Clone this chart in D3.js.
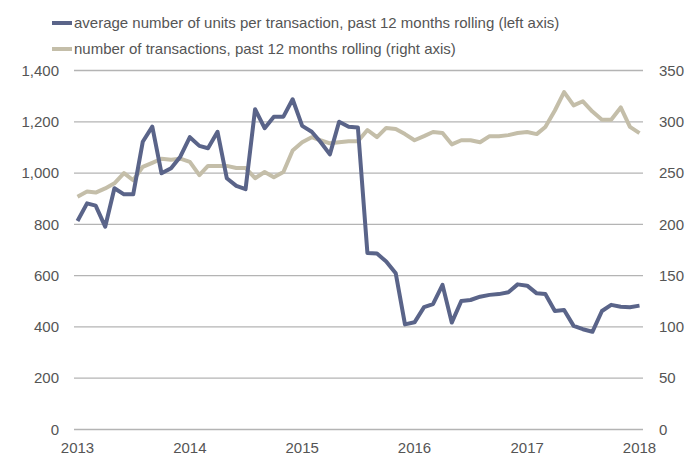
<!DOCTYPE html>
<html>
<head>
<meta charset="utf-8">
<script src="https://cdn.jsdelivr.net/npm/d3@7"></script>
<style>
  body { margin: 0; background: #fff; }
  svg { display: block; font-family: "Helvetica Neue", Helvetica, "Liberation Sans", Arial, sans-serif; }
</style>
</head>
<body>
<svg id="chart" width="699" height="457"></svg>
<script>
// monthly values, Jan 2013 .. Jan 2018
const startMonth = new Date(2013, 0, 1)
const unitsPerTransaction = [
  813, 882, 873, 791, 941, 917, 917, 1122, 1181, 999, 1019, 1064,
  1140, 1106, 1097, 1161, 980, 950, 937, 1249, 1175, 1220, 1220, 1288,
  1184, 1161, 1122, 1073, 1200, 1181, 1178, 688, 686, 655, 609, 410,
  418, 477, 489, 564, 417, 501, 505, 518, 525, 528, 535, 566,
  561, 531, 528, 462, 466, 404, 391, 381, 462, 486, 479, 477,
  483
]
const transactions = [
  227, 232, 231, 235, 240, 250, 243, 256, 260, 264, 263, 264,
  261, 248, 257, 257, 257, 255, 255, 245, 251, 246, 251, 272,
  280, 285, 282, 279, 280, 281, 281, 292, 285, 294, 293, 288,
  282, 286, 290, 289, 278, 282, 282, 280, 286, 286, 287, 289,
  290, 288, 295, 311, 329, 316, 320, 310, 302, 302, 314, 295,
  289
]
const leftTicks = [0, 200, 400, 600, 800, 1000, 1200, 1400]
const rightTicks = [0, 50, 100, 150, 200, 250, 300, 350]
const yearTicks = [2013, 2014, 2015, 2016, 2017, 2018]
const legendLabels = [
  "average number of units per transaction, past 12 months rolling (left axis)",
  "number of transactions, past 12 months rolling (right axis)"
]

const blue = "#5a6489", tan = "#c4bea9"

function visualize() {
  let svg = d3.select("#chart")
  let dates = unitsPerTransaction.map((d, i) => d3.timeMonth.offset(startMonth, i))

  let x = d3.scaleTime()
    .domain([new Date(2013, 0, 1), new Date(2018, 0, 1)])
    .range([77.5, 639.5])
  let yLeft = d3.scaleLinear().domain([0, 1400]).range([429.5, 70.5])
  let yRight = d3.scaleLinear().domain([0, 350]).range([429.5, 70.5])

  // grid
  svg.append("g")
    .selectAll("line")
    .data(leftTicks).enter()
    .append("line")
    .attr("x1", 74).attr("x2", 643)
    .attr("y1", d => yLeft(d)).attr("y2", d => yLeft(d))
    .attr("stroke", "#b4b4b4")
    .attr("stroke-width", 1.3)

  // left axis labels
  svg.append("g")
    .selectAll("text")
    .data(leftTicks).enter()
    .append("text")
    .attr("x", 59)
    .attr("y", d => yLeft(d))
    .attr("dy", "0.35em")
    .attr("text-anchor", "end")
    .attr("font-size", 15)
    .attr("fill", "#555")
    .text(d => d3.format(",")(d))

  // right axis labels
  svg.append("g")
    .selectAll("text")
    .data(rightTicks).enter()
    .append("text")
    .attr("x", 659)
    .attr("y", d => yRight(d))
    .attr("dy", "0.35em")
    .attr("font-size", 15)
    .attr("fill", "#555")
    .text(d => d)

  // year labels
  svg.append("g")
    .selectAll("text")
    .data(yearTicks).enter()
    .append("text")
    .attr("x", d => x(new Date(d, 0, 1)))
    .attr("y", 448)
    .attr("dy", "0.35em")
    .attr("text-anchor", "middle")
    .attr("font-size", 15)
    .attr("fill", "#555")
    .text(d => d)

  let lineLeft = d3.line()
    .x((d, i) => x(dates[i]))
    .y(d => yLeft(d))
  let lineRight = d3.line()
    .x((d, i) => x(dates[i]))
    .y(d => yRight(d))

  svg.append("path")
    .attr("d", lineRight(transactions))
    .attr("fill", "none")
    .attr("stroke", tan)
    .attr("stroke-width", 4)
    .attr("stroke-linejoin", "round")

  svg.append("path")
    .attr("d", lineLeft(unitsPerTransaction))
    .attr("fill", "none")
    .attr("stroke", blue)
    .attr("stroke-width", 4)
    .attr("stroke-linejoin", "round")

  // legend
  let legend = svg.append("g")
    .selectAll("g")
    .data(legendLabels).enter()
    .append("g")
    .attr("transform", (d, i) => `translate(52, ${23 + i * 26})`)
  legend.append("line")
    .attr("x1", 0).attr("x2", 20)
    .attr("stroke", (d, i) => i == 0 ? blue : tan)
    .attr("stroke-width", 4)
  legend.append("text")
    .attr("x", 22)
    .attr("dy", "0.35em")
    .attr("font-size", 15)
    .attr("fill", "#555")
    .text(d => d)
}

visualize()
</script>
</body>
</html>
